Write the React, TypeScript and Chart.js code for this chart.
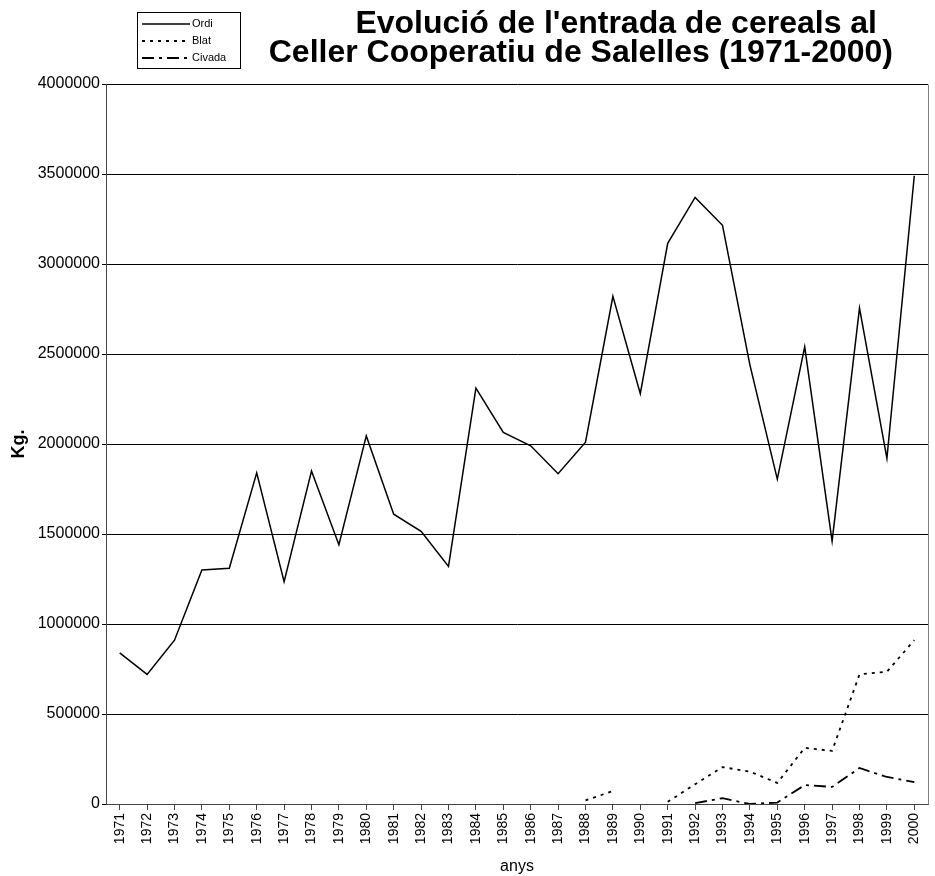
import React, { useEffect, useRef } from "react";
import { Chart, registerables } from "chart.js";

Chart.register(...registerables);

const years = [
  "1971", "1972", "1973", "1974", "1975", "1976", "1977", "1978", "1979", "1980",
  "1981", "1982", "1983", "1984", "1985", "1986", "1987", "1988", "1989", "1990",
  "1991", "1992", "1993", "1994", "1995", "1996", "1997", "1998", "1999", "2000",
];

const ordi = [
  840000, 720000, 910000, 1300000, 1310000, 1840000, 1235000, 1850000, 1440000, 2045000,
  1610000, 1515000, 1320000, 2310000, 2065000, 1990000, 1835000, 2010000, 2820000, 2280000,
  3115000, 3370000, 3215000, 2440000, 1805000, 2540000, 1460000, 2755000, 1920000, 3490000,
];

const blat = [
  null, null, null, null, null, null, null, null, null, null,
  null, null, null, null, null, null, null, 20000, 72000, null,
  12000, 110000, 205000, 180000, 117000, 312000, 295000, 720000, 735000, 910000,
];

const civada = [
  null, null, null, null, null, null, null, null, null, null,
  null, null, null, null, null, null, null, null, null, null,
  null, 5000, 32000, 0, 8000, 105000, 95000, 200000, 150000, 122000,
];

const yTicks = [0, 500000, 1000000, 1500000, 2000000, 2500000, 3000000, 3500000, 4000000];

const titleLines = [
  "Evolució de l'entrada de cereals al",
  "Celler Cooperatiu de Salelles (1971-2000)",
];

const FONT = '"Liberation Sans", Arial, sans-serif';

export default function App() {
  const ref = useRef<HTMLCanvasElement>(null);

  useEffect(() => {
    if (!ref.current) return;

    const decorPlugin = {
      id: "decor",
      beforeDatasetsDraw(chart: any) {
        const { ctx, chartArea } = chart;
        ctx.save();
        ctx.strokeStyle = "#808080";
        ctx.lineWidth = 1;
        ctx.beginPath();
        ctx.moveTo(Math.round(chartArea.right) + 0.5, Math.round(chartArea.top) + 0.5);
        ctx.lineTo(Math.round(chartArea.right) + 0.5, Math.round(chartArea.bottom) + 0.5);
        ctx.stroke();
        ctx.restore();
      },
      afterDraw(chart: any) {
        const ctx = chart.ctx;
        ctx.save();
        // legend box
        ctx.strokeStyle = "#000";
        ctx.lineWidth = 1;
        ctx.setLineDash([]);
        ctx.strokeRect(137.5, 12.5, 103, 56);
        chart.data.datasets.forEach((ds: any, i: number) => {
          const y = 24 + i * 17;
          ctx.beginPath();
          ctx.setLineDash(ds.borderDash || []);
          ctx.lineWidth = ds.borderWidth;
          ctx.strokeStyle = ds.borderColor;
          ctx.moveTo(142, y);
          ctx.lineTo(190, y);
          ctx.stroke();
          ctx.setLineDash([]);
          ctx.fillStyle = "#000";
          ctx.font = `11px ${FONT}`;
          ctx.textBaseline = "middle";
          ctx.textAlign = "left";
          ctx.fillText(ds.label, 192, y);
        });
        // title
        ctx.fillStyle = "#000";
        ctx.font = `bold 32px ${FONT}`;
        ctx.textAlign = "right";
        ctx.textBaseline = "alphabetic";
        ctx.fillText(titleLines[0], 877, 33);
        ctx.fillText(titleLines[1], 893, 62);
        ctx.restore();
      },
    };

    const chart = new Chart(ref.current, {
      type: "line",
      data: {
        labels: years,
        datasets: [
          {
            label: "Ordi",
            data: ordi,
            borderColor: "#000",
            borderWidth: 1.5,
            pointRadius: 0,
            tension: 0,
            fill: false,
          },
          {
            label: "Blat",
            data: blat,
            borderColor: "#000",
            borderWidth: 1.8,
            borderDash: [3, 5],
            pointRadius: 0,
            tension: 0,
            fill: false,
          },
          {
            label: "Civada",
            data: civada,
            borderColor: "#000",
            borderWidth: 1.8,
            borderDash: [12, 5, 3, 5],
            pointRadius: 0,
            tension: 0,
            fill: false,
          },
        ],
      },
      options: {
        responsive: false,
        animation: false,
        spanGaps: false,
        layout: { padding: { top: 84, right: 7, left: 0, bottom: 0 } },
        plugins: {
          legend: { display: false },
          title: { display: false },
          tooltip: { enabled: false },
        },
        scales: {
          x: {
            type: "category",
            offset: true,
            grid: {
              display: true,
              drawOnChartArea: false,
              drawTicks: true,
              tickLength: 6,
              color: "#444",
              offset: false,
            },
            border: { color: "#444", width: 1 },
            ticks: {
              autoSkip: false,
              minRotation: 90,
              maxRotation: 90,
              color: "#000",
              padding: 3,
              font: { size: 14, family: FONT },
            },
            title: {
              display: true,
              text: "anys",
              color: "#000",
              font: { size: 16, family: FONT },
              padding: { top: 2, bottom: 0 },
            },
            afterFit(scale: any) {
              scale.height = 72;
            },
          },
          y: {
            min: 0,
            max: 4000000,
            grid: {
              color: "#000",
              lineWidth: 1,
              drawTicks: true,
              tickLength: 4,
            },
            border: { color: "#444", width: 1 },
            afterBuildTicks(scale: any) {
              scale.ticks = yTicks.map((v) => ({ value: v }));
            },
            ticks: {
              color: "#000",
              padding: 2,
              font: { size: 16, family: FONT },
              callback: (v: any) => String(v),
            },
            title: {
              display: true,
              text: "Kg.",
              color: "#000",
              font: { size: 18, family: FONT, weight: "bold" },
              padding: { top: 8, bottom: 0 },
            },
            afterFit(scale: any) {
              scale.width = 106;
            },
          },
        },
      },
      plugins: [decorPlugin],
    });

    return () => chart.destroy();
  }, []);

  return (
    <div style={{ position: "absolute", left: 0, top: 0, width: 935, height: 876, background: "#fff" }}>
      <canvas ref={ref} width={935} height={876} />
    </div>
  );
}
